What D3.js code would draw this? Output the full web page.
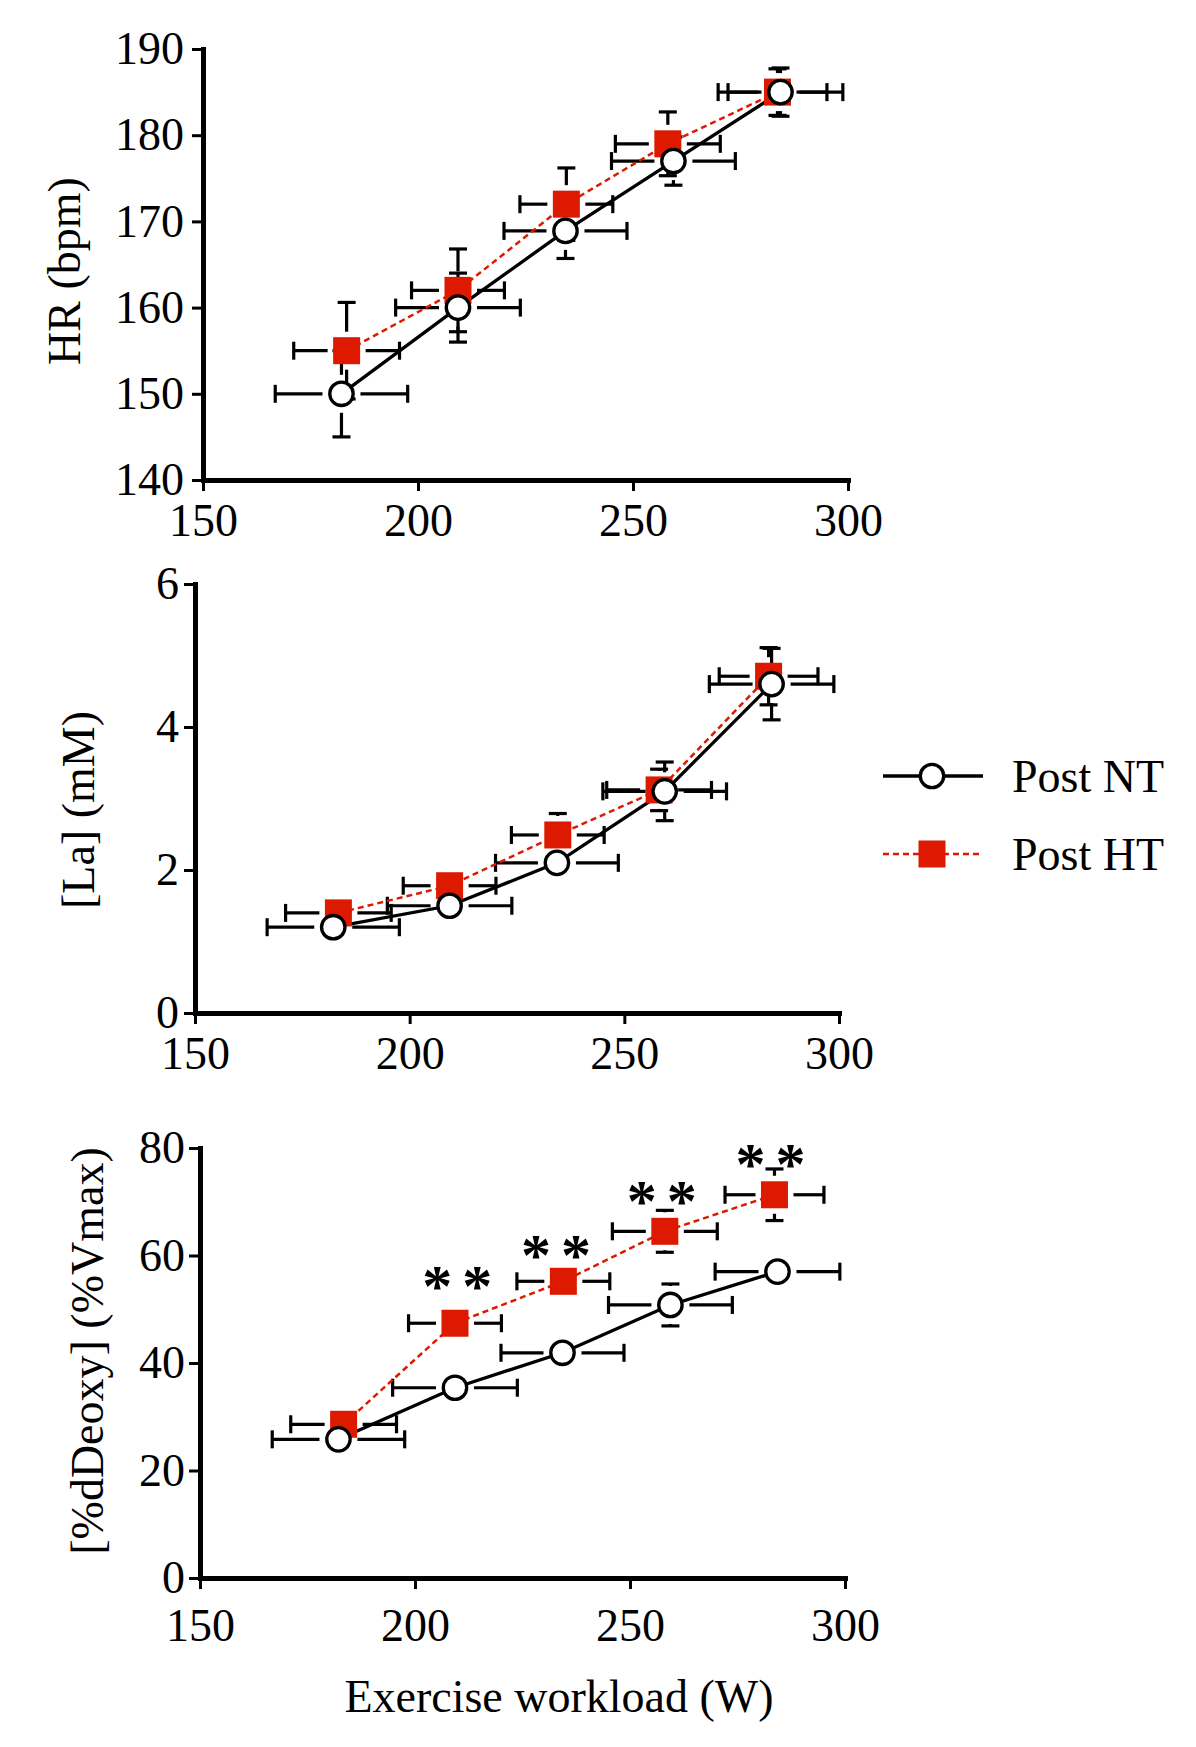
<!DOCTYPE html>
<html><head><meta charset="utf-8">
<script src="https://cdn.jsdelivr.net/npm/d3@7"></script>
<style>
body{margin:0;background:#fff}
svg text{font-family:"Liberation Serif","Times New Roman",serif;fill:#000}
</style>
</head><body>
<svg id="chart" width="1196" height="1747"></svg>
<script>
// ---------- data ----------
const workloadNT    = [182.2, 209.3, 234.3, 259.4, 284.3];
const workloadNTErr = [15.4, 14.5, 14.3, 14.4, 14.5];
const workloadHT    = [183.4, 209.3, 234.5, 258.1, 283.6];
const workloadHTErr = [12.3, 10.8, 10.8, 12.2, 11.5];

const hrNT    = [150, 160, 168.9, 177, 185];
const hrNTErr = [5, 4, 3.2, 2.8, 2.8];
const hrHT    = [155, 162, 172, 179, 185];
const hrHTErr = [5.6, 4.8, 4.2, 3.7, 2.7];

const laNT    = [1.2, 1.5, 2.1, 3.1, 4.6];
const laNTErr = [0.08, 0.1, 0.12, 0.41, 0.5];
const laHT    = [1.4, 1.78, 2.49, 3.12, 4.71];
const laHTErr = [0.1, 0.12, 0.3, 0.29, 0.4];

const deoxyNT    = [25.8, 35.4, 41.9, 50.8, 57.0];
const deoxyNTErr = [1.0, 1.2, 1.5, 3.9, 1.2];
const deoxyHT    = [28.6, 47.4, 55.2, 64.5, 71.3];
const deoxyHTErr = [1.5, 1.5, 1.8, 3.9, 4.8];

// significance markers (workload, value) in panel 3
const sigX = [209.8, 232.8, 257.4, 282.7];
const sigY = [56.2, 61.9, 72.0, 78.8];

const xTicks = [150, 200, 250, 300];
const hrTicks = [140, 150, 160, 170, 180, 190];
const laTicks = [0, 2, 4, 6];
const deoxyTicks = [0, 20, 40, 60, 80];

const seriesNames = ["Post NT", "Post HT"];
const xTitle = "Exercise workload (W)";

// ---------- layout ----------
const RED = "#dd1a00";
const svg = d3.select("#chart");
svg.append("rect").attr("width",1196).attr("height",1747).attr("fill","#fff");

const panels = [
  {title:"HR (bpm)", domain:[140,190], ticks:hrTicks, nt:hrNT, ntE:hrNTErr, ht:hrHT, htE:hrHTErr,
   left:203, right:848, top:49, bottom:480, titleX:64, titleY:271, xPad:12, yPad:8},
  {title:"[La] (mM)", domain:[0,6], ticks:laTicks, nt:laNT, ntE:laNTErr, ht:laHT, htE:laHTErr,
   left:195, right:839, top:584, bottom:1013, titleX:78, titleY:810, xPad:12, yPad:5},
  {title:"[%dDeoxy] (%Vmax)", domain:[0,80], ticks:deoxyTicks, nt:deoxyNT, ntE:deoxyNTErr, ht:deoxyHT, htE:deoxyHTErr,
   left:200, right:845, top:1148, bottom:1578, titleX:87, titleY:1351, xPad:19, yPad:4, sig:true}
];

const FS = 46;
const CAP = 9;
const GAP = 19;   // error bars start this far from the symbol centre
const EBW = 3.2;

panels.forEach(p => {
  const x = d3.scaleLinear().domain([150,300]).range([p.left,p.right]);
  const y = d3.scaleLinear().domain(p.domain).range([p.bottom,p.top]);
  const g = svg.append("g");

  // axes
  const ax = g.append("g").attr("transform",`translate(0,${p.bottom})`)
    .call(d3.axisBottom(x).tickValues(xTicks).tickFormat(d3.format("d")).tickSize(11).tickSizeOuter(0).tickPadding(p.xPad));
  const ay = g.append("g").attr("transform",`translate(${p.left},0)`)
    .call(d3.axisLeft(y).tickValues(p.ticks).tickFormat(d3.format("d")).tickSize(11).tickSizeOuter(0).tickPadding(p.yPad));
  [ax,ay].forEach(a=>{
    a.attr("font-family",null).attr("font-size",null);
    a.select(".domain").attr("stroke","#000").attr("stroke-width",5).attr("stroke-linecap","square");
    a.selectAll(".tick line").attr("stroke","#000").attr("stroke-width",3);
    a.selectAll(".tick text").style("font-size",FS+"px");
  });

  // y title
  g.append("text")
    .attr("transform",`translate(${p.titleX},${p.titleY}) rotate(-90)`)
    .attr("text-anchor","middle").attr("dy","0.35em")
    .style("font-size",FS+"px").text(p.title);

  const series = [
    {xs:workloadHT, xe:workloadHTErr, ys:p.ht, ye:p.htE},
    {xs:workloadNT, xe:workloadNTErr, ys:p.nt, ye:p.ntE}
  ];

  // error bars (with a small gap around the symbol)
  const eb = g.append("g").attr("stroke","#000").attr("stroke-width",EBW).attr("fill","none");
  const seg = (x1,y1,x2,y2)=>eb.append("line").attr("x1",x1).attr("y1",y1).attr("x2",x2).attr("y2",y2);
  series.forEach(s=>{
    s.xs.forEach((w,i)=>{
      const cx=x(w), cy=y(s.ys[i]);
      const x0=x(w-s.xe[i]), x1=x(w+s.xe[i]);
      const yLo=y(s.ys[i]-s.ye[i]), yHi=y(s.ys[i]+s.ye[i]);
      if (cx-x0>GAP){ seg(x0,cy,cx-GAP,cy); seg(x0,cy-CAP,x0,cy+CAP); }
      if (x1-cx>GAP){ seg(cx+GAP,cy,x1,cy); seg(x1,cy-CAP,x1,cy+CAP); }
      if (yLo-cy>GAP){ seg(cx,cy+GAP,cx,yLo); seg(cx-CAP,yLo,cx+CAP,yLo); }
      if (cy-yHi>GAP){ seg(cx,cy-GAP,cx,yHi); seg(cx-CAP,yHi,cx+CAP,yHi); }
    });
  });

  // lines
  const line = d3.line().x(d=>x(d[0])).y(d=>y(d[1]));
  g.append("path").datum(workloadHT.map((w,i)=>[w,p.ht[i]]))
    .attr("d",line).attr("fill","none").attr("stroke",RED).attr("stroke-width",2.5).attr("stroke-dasharray","6,4");
  g.append("path").datum(workloadNT.map((w,i)=>[w,p.nt[i]]))
    .attr("d",line).attr("fill","none").attr("stroke","#000").attr("stroke-width",3.3);

  // markers
  g.selectAll(".sq").data(workloadHT.map((w,i)=>[w,p.ht[i]])).enter().append("rect")
    .attr("x",d=>x(d[0])-13.5).attr("y",d=>y(d[1])-13.5).attr("width",27).attr("height",27).attr("fill",RED);
  g.selectAll(".ci").data(workloadNT.map((w,i)=>[w,p.nt[i]])).enter().append("circle")
    .attr("cx",d=>x(d[0])).attr("cy",d=>y(d[1])).attr("r",11.7)
    .attr("fill","#fff").attr("stroke","#000").attr("stroke-width",3.3);

  if (p.sig) {
    sigX.forEach((w,i)=>{
      [-20,20].forEach(dx=>{
        g.append("text").attr("x",x(w)+dx).attr("y",y(sigY[i])+30)
          .attr("text-anchor","middle").style("font-size","60px").style("font-weight","bold").text("*");
      });
    });
    svg.append("text").attr("x",559).attr("y",1696).attr("dy","0.35em")
      .attr("text-anchor","middle").style("font-size",FS+"px").text(xTitle);
  }
});

// legend
const leg = svg.append("g");
leg.append("line").attr("x1",883).attr("x2",983).attr("y1",776).attr("y2",776)
  .attr("stroke","#000").attr("stroke-width",3.3);
leg.append("circle").attr("cx",932).attr("cy",776).attr("r",11.7)
  .attr("fill","#fff").attr("stroke","#000").attr("stroke-width",3.3);
leg.append("line").attr("x1",883).attr("x2",983).attr("y1",854).attr("y2",854)
  .attr("stroke",RED).attr("stroke-width",2.5).attr("stroke-dasharray","6,4");
leg.append("rect").attr("x",918.5).attr("y",840.5).attr("width",27).attr("height",27).attr("fill",RED);
leg.append("text").attr("x",1012).attr("y",776).attr("dy","0.35em").style("font-size",FS+"px").text(seriesNames[0]);
leg.append("text").attr("x",1012).attr("y",854).attr("dy","0.35em").style("font-size",FS+"px").text(seriesNames[1]);
</script>
</body></html>
